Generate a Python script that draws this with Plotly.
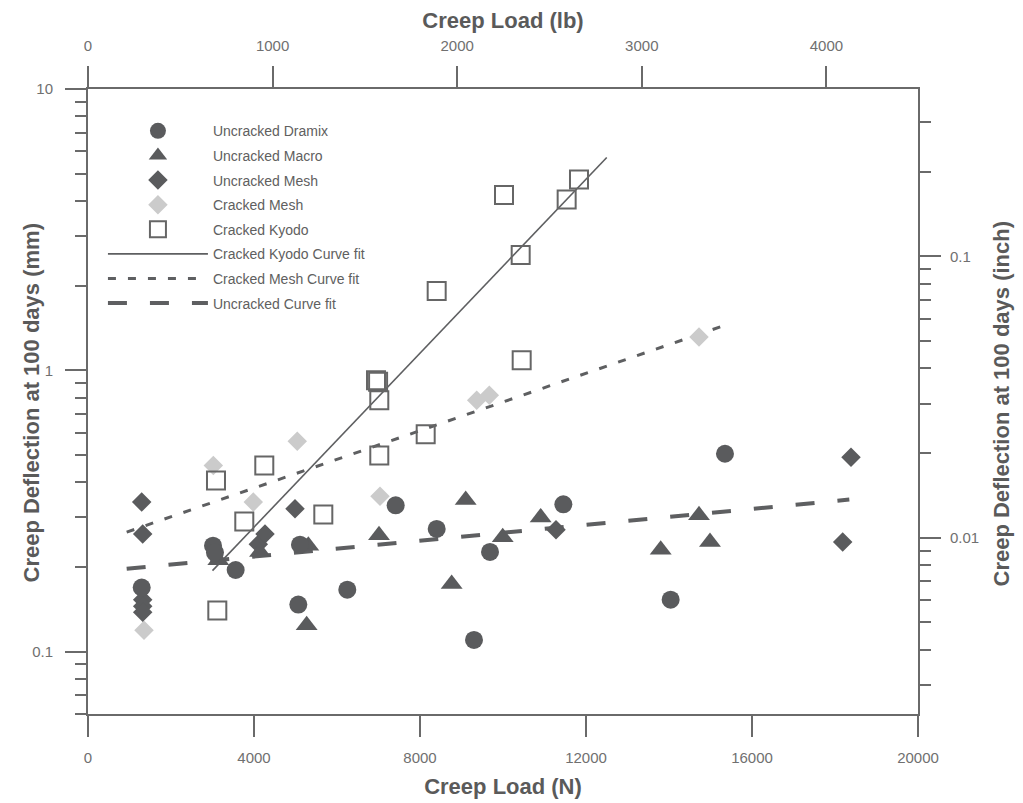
import math
import plotly.graph_objects as go

# ---------------- data ----------------
dramix_x = [1294, 3012, 3060, 3558, 5068, 5108, 6248, 7414, 8402, 9301, 9687, 11454, 14040, 15349]
dramix_y = [0.169, 0.238, 0.225, 0.195, 0.147, 0.240, 0.166, 0.331, 0.273, 0.110, 0.226, 0.334, 0.153, 0.505]

macro_x = [3140, 4145, 5269, 5309, 7012, 8763, 9101, 9993, 10908, 13800, 14723, 14988]
macro_y = [0.211, 0.226, 0.124, 0.238, 0.259, 0.174, 0.346, 0.255, 0.300, 0.230, 0.305, 0.245]

umesh_x = [1294, 1318, 1318, 1318, 1318, 4104, 4265, 4988, 11277, 18185, 18386]
umesh_y = [0.340, 0.262, 0.153, 0.145, 0.138, 0.241, 0.262, 0.322, 0.271, 0.245, 0.491]

cmesh_x = [1350, 3019, 3983, 5043, 7036, 9366, 9670, 14723]
cmesh_y = [0.119, 0.459, 0.340, 0.559, 0.357, 0.782, 0.815, 1.314]

kyodo_x = [3084, 3116, 3766, 4248, 5670, 6940, 6990, 7019, 7019, 8137, 8402, 10024, 10426, 10450, 11534, 11831]
kyodo_y = [0.406, 0.140, 0.290, 0.459, 0.307, 0.921, 0.910, 0.782, 0.498, 0.592, 1.915, 4.20, 2.57, 1.085, 4.05, 4.77]

# curve-fit end points (straight lines on the log axis)
kyodo_fit_x = [3000, 12500]
kyodo_fit_y = [0.194, 5.71]
cmesh_fit_x = [932, 15349]
cmesh_fit_y = [0.266, 1.446]
unc_fit_x = [932, 18345]
unc_fit_y = [0.197, 0.347]

# axis ticks
x_n_ticks = [0, 4000, 8000, 12000, 16000, 20000]
x_n_labels = ["0", "4000", "8000", "12000", "16000", "20000"]
x_lb_ticks = [0, 1000, 2000, 3000, 4000]
x_lb_labels = ["0", "1000", "2000", "3000", "4000"]
y_mm_ticks = [0.1, 1, 10]
y_mm_labels = ["0.1", "1", "10"]
y_mm_minor = [0.06, 0.07, 0.08, 0.09, 0.2, 0.3, 0.4, 0.5, 0.6, 0.7, 0.8, 0.9,
              2, 3, 4, 5, 6, 7, 8, 9]
y_in_ticks = [0.01, 0.1]
y_in_labels = ["0.01", "0.1"]
y_in_minor = [0.003, 0.004, 0.005, 0.006, 0.007, 0.008, 0.009,
              0.02, 0.03, 0.04, 0.05, 0.06, 0.07, 0.08, 0.09, 0.2, 0.3]

N_PER_LB = 4.44822
MM_PER_IN = 25.4
Y_MIN, Y_MAX = 0.06, 10.0
X_MAX = 20000

DARK = "#5a5b5d"
LIGHT = "#cbcbcb"
LINE = "#5e5f61"
AX = "#6a6a6a"
TXT = "#5a5a5a"
FONT = "Liberation Sans, Arial, sans-serif"

fig = go.Figure()

# fit lines first (drawn beneath markers), ranked last in legend
fig.add_trace(go.Scatter(x=kyodo_fit_x, y=kyodo_fit_y, mode="lines",
                         name="Cracked Kyodo Curve fit", legendrank=6, legendgroup="g6",
                         line=dict(color=LINE, width=1.6)))
fig.add_trace(go.Scatter(x=cmesh_fit_x, y=cmesh_fit_y, mode="lines",
                         name="Cracked Mesh Curve fit", legendrank=7, legendgroup="g7",
                         line=dict(color=LINE, width=3, dash="8px,12px")))
fig.add_trace(go.Scatter(x=unc_fit_x, y=unc_fit_y, mode="lines",
                         name="Uncracked Curve fit", legendrank=8, legendgroup="g8",
                         line=dict(color=LINE, width=4, dash="19px,23px")))

fig.add_trace(go.Scatter(x=cmesh_x, y=cmesh_y, mode="markers", name="Cracked Mesh",
                         legendrank=4, legendgroup="g4",
                         marker=dict(symbol="diamond", size=15, color=LIGHT, line=dict(width=0))))
fig.add_trace(go.Scatter(x=kyodo_x, y=kyodo_y, mode="markers", name="Cracked Kyodo",
                         legendrank=5, legendgroup="g5",
                         marker=dict(symbol="square-open", size=18, color="#666666",
                                     line=dict(width=2, color="#666666"))))
fig.add_trace(go.Scatter(x=umesh_x, y=umesh_y, mode="markers", name="Uncracked Mesh",
                         legendrank=3, legendgroup="g3",
                         marker=dict(symbol="diamond", size=15, color=DARK, line=dict(width=0))))
fig.add_trace(go.Scatter(x=macro_x, y=macro_y, mode="markers", name="Uncracked Macro",
                         legendrank=2, legendgroup="g2",
                         marker=dict(symbol="triangle-up", size=19, color=DARK, line=dict(width=0))))
fig.add_trace(go.Scatter(x=dramix_x, y=dramix_y, mode="markers", name="Uncracked Dramix",
                         legendrank=1, legendgroup="g1",
                         marker=dict(symbol="circle", size=18, color=DARK, line=dict(width=0))))

# empty trace to create the secondary (lb / inch) axes
fig.add_trace(go.Scatter(x=[], y=[], xaxis="x2", yaxis="y2", showlegend=False,
                         hoverinfo="skip"))

tickfont = dict(family=FONT, size=15, color="#707070")
titlefont = dict(family=FONT, size=22, color=TXT, weight="bold")

common = dict(showgrid=False, zeroline=False, showline=True, linecolor=AX, linewidth=2,
              ticks="outside", ticklen=21, tickwidth=1.5, tickcolor=AX, tickfont=tickfont)

# page body has an 8px margin: figure is 1015x795 so the plot area lands at 88..918 / 89..714
fig.update_layout(
    width=1015, height=795,
    margin=dict(l=80, r=105, t=81, b=89, autoexpand=False),
    paper_bgcolor="white", plot_bgcolor="white",
    showlegend=True,
    legend=dict(x=0.018, y=0.958, xanchor="left", yanchor="top",
                font=dict(family=FONT, size=14, color="#606060"),
                bgcolor="rgba(0,0,0,0)", borderwidth=0,
                tracegroupgap=3.4, itemwidth=100, traceorder="grouped"),
    xaxis=dict(range=[0, X_MAX], tickmode="array", tickvals=x_n_ticks, ticktext=x_n_labels,
               ticklabelstandoff=8,
               title=dict(text="Creep Load (N)", font=titlefont, standoff=14),
               anchor="y", **common),
    xaxis2=dict(range=[0, X_MAX / N_PER_LB], tickmode="array", tickvals=x_lb_ticks,
                ticktext=x_lb_labels, ticklabelstandoff=9,
                overlaying="x", side="top", anchor="y",
                title=dict(text="Creep Load (lb)", font=titlefont, standoff=5),
                **common),
    yaxis=dict(type="log", range=[math.log10(Y_MIN), math.log10(Y_MAX)],
               tickmode="array", tickvals=y_mm_ticks, ticktext=y_mm_labels,
               ticklabelstandoff=9,
               minor=dict(tickmode="array", tickvals=y_mm_minor, ticks="outside",
                          ticklen=11, tickwidth=1.5, tickcolor=AX, showgrid=False),
               anchor="x", **common),
    yaxis2=dict(type="log",
                range=[math.log10(Y_MIN / MM_PER_IN), math.log10(Y_MAX / MM_PER_IN)],
                tickmode="array", tickvals=y_in_ticks, ticktext=y_in_labels,
                ticklabelstandoff=6,
                minor=dict(tickmode="array", tickvals=y_in_minor, ticks="outside",
                           ticklen=11, tickwidth=1.5, tickcolor=AX, showgrid=False),
                overlaying="y", side="right", anchor="x",
                **common),
    annotations=[
        dict(text="Creep Deflection at 100 days (mm)", xref="paper", yref="paper",
             x=0, y=0.5, xanchor="center", yanchor="middle", xshift=-57, yshift=-2,
             textangle=-90, showarrow=False, font=titlefont),
        dict(text="Creep Deflection at 100 days (inch)", xref="paper", yref="paper",
             x=1, y=0.5, xanchor="center", yanchor="middle", xshift=83, yshift=-2,
             textangle=-90, showarrow=False, font=titlefont),
    ],
)

fig.write_html("out.html")
